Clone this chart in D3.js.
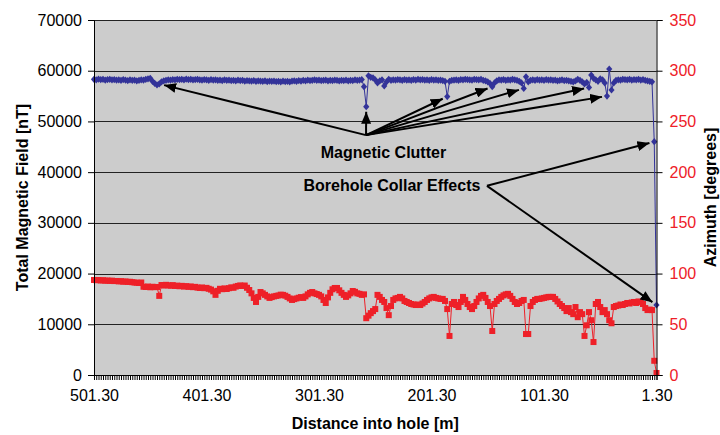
<!DOCTYPE html>
<html>
<head>
<meta charset="utf-8">
<script src="https://cdn.jsdelivr.net/npm/d3@7"></script>
<style>
  body { margin: 0; background: #fff; }
  svg { display: block; font-family: "Liberation Sans", Arial, sans-serif; }
</style>
</head>
<body>
<svg class="chart" width="720" height="435"></svg>
<script>
// depth categories, one reading every 2 m
const depths = d3.range(501.3, 1.2, -2);
const depthLabels = [501.3, 401.3, 301.3, 201.3, 101.3, 1.3];
const fieldTicks = [0, 10000, 20000, 30000, 40000, 50000, 60000, 70000];
const azimuthTicks = [0, 50, 100, 150, 200, 250, 300, 350];

// total magnetic field [nT]
const totalField = [
  58300, 58200, 58350, 58250, 58300, 58150, 58250, 58300, 58200, 58250,
  58150, 58200, 58100, 58250, 58150, 58050, 58200, 58100, 58150, 58000,
  58100, 58200, 58150, 58300, 58400, 58500, 57900, 57500, 57200, 57400,
  57800, 58000, 58100, 58200, 58150, 58250, 58200, 58300, 58250, 58300,
  58200, 58350, 58250, 58300, 58200, 58250, 58300, 58200, 58150, 58250,
  58200, 58100, 58250, 58150, 58200, 58100, 58150, 58050, 58200, 58100,
  58150, 58050, 58100, 58000, 58150, 58050, 58100, 57950, 58050, 58000,
  57950, 58050, 57900, 58000, 57950, 57900, 58000, 57850, 57950, 57900,
  57950, 57850, 57900, 57800, 57950, 57850, 57900, 57800, 57950, 58000,
  57900, 58050, 57950, 58100, 58000, 58150, 58050, 58100, 58200, 58100,
  58150, 58050, 58100, 58150, 58000, 58100, 58050, 58150, 58100, 58000,
  58100, 58050, 58150, 58000, 58100, 58050, 58200, 58100, 58150, 58250,
  56850, 52900, 59000, 58700, 58600, 58200, 57600, 58000, 58200, 57000,
  57800, 58300, 58100, 58200, 58150, 58250, 58200, 58100, 58250, 58150,
  58200, 58100, 58250, 58150, 58300, 58200, 58250, 58150, 58200, 58100,
  58250, 58150, 58200, 58100, 58150, 58050, 57900, 54900, 57900, 58100,
  58150, 58200, 58100, 58250, 58200, 58300, 58250, 58200, 58150, 58300,
  58250, 58200, 58300, 58100, 58000, 57800, 57500, 56850, 57600, 58000,
  58200, 58150, 58250, 58100, 58200, 58150, 58300, 58200, 58100, 57900,
  57600, 56500, 58800, 57800, 58100, 58200, 58100, 58250, 58150, 58200,
  58100, 58250, 58150, 58200, 58100, 58150, 58000, 58100, 58200, 58050,
  58100, 58000, 57900, 57800, 58000, 58300, 58100, 57800, 57400, 57700,
  56700, 59150, 58500, 58200, 57900, 58400, 58200, 57600, 55000, 60340,
  56200, 57600, 58100, 58200, 58150, 58300, 58250, 58200, 58300, 58150,
  58250, 58200, 58300, 58150, 58250, 58100, 58000, 57900, 57800, 46000,
  13800
];

// azimuth [degrees]
const azimuth = [
  93.7, 93.5, 93.6, 93.2, 93.4, 93.0, 93.1, 92.8, 93.0, 92.6,
  92.7, 92.3, 92.5, 92.0, 92.2, 91.8, 91.9, 91.5, 91.2, 91.0,
  90.7, 91.2, 87.0, 86.8, 87.2, 86.5, 87.0, 86.6, 86.8, 78.0,
  88.7, 88.2, 88.9, 88.4, 88.0, 88.6, 87.8, 88.1, 87.5, 87.9,
  87.2, 87.6, 86.9, 87.3, 86.6, 86.9, 86.2, 85.8, 86.3, 85.6,
  85.9, 85.0, 84.2, 82.5, 79.0, 83.0, 85.0, 84.6, 85.4, 84.8,
  85.6, 86.4, 86.0, 87.2, 87.8, 88.3, 87.8, 88.2, 86.0, 83.8,
  80.5, 76.0, 72.0, 77.0, 81.8, 80.5, 79.0, 77.5, 76.0, 76.8,
  77.5, 78.0, 78.4, 79.2, 79.0, 78.2, 77.0, 75.5, 74.0, 74.8,
  75.5, 76.2, 76.8, 76.0, 77.5, 79.5, 81.0, 81.8, 80.5, 79.8,
  79.0, 77.5, 74.0, 71.0, 76.5, 81.0, 84.5, 85.8, 85.8, 83.5,
  81.0, 79.0, 77.0, 78.5, 80.5, 82.8, 82.0, 80.5, 80.0, 79.0,
  79.5, 56.0, 58.5, 61.0, 63.0, 65.0, 79.0, 77.0, 74.0, 72.0,
  66.0, 59.0, 68.0, 74.0, 75.5, 76.0, 77.0, 75.5, 73.0, 72.0,
  71.0, 70.0, 69.5, 69.0, 69.5, 69.0, 70.5, 72.0, 74.0, 75.5,
  76.5, 77.0, 76.0, 75.5, 75.0, 75.0, 73.0, 65.0, 38.5, 70.0,
  72.0, 69.0, 67.0, 72.0, 77.0, 74.0, 70.0, 67.0, 65.0, 68.0,
  72.0, 75.5, 78.0, 79.0, 76.0, 72.0, 68.0, 43.4, 70.0, 73.0,
  75.0, 77.0, 78.5, 79.5, 80.0, 78.0, 75.0, 72.0, 70.0, 71.0,
  73.0, 74.0, 40.4, 40.4, 68.0, 72.0, 74.0, 75.0, 75.0, 75.5,
  76.0, 76.5, 77.0, 77.0, 77.0, 75.0, 72.5, 70.0, 68.0, 66.0,
  63.0, 66.0, 62.0, 60.0, 67.0, 57.0, 62.0, 60.0, 38.5, 49.0,
  62.0, 54.0, 32.5, 70.0, 72.0, 67.0, 62.0, 64.0, 60.0, 54.0,
  51.0, 67.0, 68.0, 68.5, 69.5, 69.0, 70.0, 71.0, 70.5, 71.5,
  72.0, 71.0, 72.5, 72.0, 70.0, 66.0, 64.0, 64.5, 64.0, 14.0,
  2.0
];

// annotations: text anchor in data units, arrow targets as depths on the field series
const clutterLabel = { text: "Magnetic Clutter", depth: 244, value: 42800 };
const clutterFrom = { depth: 259.5, value: 47300 };
const clutterDepths = [443.3, 259.3, 187.3, 147.3, 119.3, 61.3, 45.3];
const collarLabel = { text: "Borehole Collar Effects", depth: 236.5, value: 36300 };
const collarFrom = { depth: 152, value: 37300 };
const collarDepths = [3.3, 1.3];

class MagChart {
    constructor(el){
        this.svg = d3.select(el);
        this.margin = { top: 20, right: 63.5, bottom: 60, left: 94 };
        this.w = 720 - this.margin.left - this.margin.right;
        this.h = 435 - this.margin.top - this.margin.bottom;
        this.g = this.svg.append("g").attr("transform", "translate(" + this.margin.left + "," + this.margin.top + ")");
        this.x = d3.scaleLinear().domain([501.3, 1.3]).range([0, this.w]);
        this.yL = d3.scaleLinear().domain([0, 70000]).range([this.h, 0]);
        this.yR = d3.scaleLinear().domain([0, 350]).range([this.h, 0]);
        this.blue = "#333399";
        this.red = "#ee2028";
        this.drawFrame();
        this.drawSeries();
        this.drawAxes();
        this.drawNotes();
    }

    drawFrame(){
        this.g.append("rect")
            .attr("width", this.w).attr("height", this.h)
            .attr("fill", "#cccccc");
        this.g.append("g").selectAll("line").data(fieldTicks.slice(1)).join("line")
            .attr("x1", 0).attr("x2", this.w)
            .attr("y1", d => Math.round(this.yL(d)) + 0.5)
            .attr("y2", d => Math.round(this.yL(d)) + 0.5)
            .attr("stroke", "#222").attr("stroke-width", 1);
    }

    drawSeries(){
        const field = depths.map((d, i) => [d, totalField[i]]);
        const az = depths.map((d, i) => [d, azimuth[i]]);

        const lineL = d3.line().x(d => this.x(d[0])).y(d => this.yL(d[1]));
        const lineR = d3.line().x(d => this.x(d[0])).y(d => this.yR(d[1]));

        this.g.append("path").datum(field)
            .attr("d", lineL).attr("fill", "none")
            .attr("stroke", this.blue).attr("stroke-width", 1);
        this.g.append("g").selectAll("path").data(field).join("path")
            .attr("transform", d => "translate(" + this.x(d[0]) + "," + this.yL(d[1]) + ")")
            .attr("d", "M0,-3.6L3.1,0L0,3.6L-3.1,0Z")
            .attr("fill", this.blue);

        this.g.append("path").datum(az)
            .attr("d", lineR).attr("fill", "none")
            .attr("stroke", this.red).attr("stroke-width", 1);
        this.g.append("g").selectAll("rect").data(az).join("rect")
            .attr("x", d => this.x(d[0]) - 3)
            .attr("y", d => this.yR(d[1]) - 3)
            .attr("width", 6).attr("height", 6)
            .attr("fill", this.red);
    }

    drawAxes(){
        const font = "16px";
        // dense category ticks along the bottom
        this.g.append("g")
            .attr("transform", "translate(0," + this.h + ")")
            .call(d3.axisBottom(this.x).tickValues(depths).tickSize(5).tickFormat(""))
            .call(g => g.select(".domain").attr("stroke", "#000"));
        this.g.append("g")
            .attr("transform", "translate(0," + this.h + ")")
            .call(d3.axisBottom(this.x).tickValues(depthLabels).tickSize(0).tickPadding(15).tickFormat(d3.format(".2f")))
            .call(g => g.select(".domain").remove())
            .selectAll("text").attr("font-size", font).attr("fill", "#000");

        this.g.append("g")
            .call(d3.axisLeft(this.yL).tickValues(fieldTicks).tickSize(6).tickPadding(6).tickFormat(d3.format("d")))
            .call(g => g.selectAll("line, .domain").attr("stroke", "#000"))
            .selectAll("text").attr("font-size", font).attr("fill", "#000");

        this.g.append("g")
            .attr("transform", "translate(" + this.w + ",0)")
            .call(d3.axisRight(this.yR).tickValues(azimuthTicks).tickSize(6).tickPadding(7))
            .call(g => g.selectAll("line, .domain").attr("stroke", "#000"))
            .selectAll("text").attr("font-size", font).attr("fill", this.red);

        const title = (txt, x, y, rot) => this.svg.append("text")
            .attr("transform", "translate(" + x + "," + y + ")" + (rot ? " rotate(-90)" : ""))
            .attr("text-anchor", "middle")
            .attr("font-size", "16px").attr("font-weight", "bold")
            .text(txt);
        title("Distance into hole [m]", this.margin.left + this.w / 2, 429, false);
        title("Total Magnetic Field [nT]", 28, this.margin.top + this.h / 2, true);
        title("Azimuth [degrees]", 716, this.margin.top + this.h / 2, true);
    }

    drawNotes(){
        const defs = this.svg.append("defs");
        defs.append("marker")
            .attr("id", "head")
            .attr("viewBox", "0 0 12 10")
            .attr("refX", 12).attr("refY", 5)
            .attr("markerWidth", 12).attr("markerHeight", 10)
            .attr("markerUnits", "userSpaceOnUse")
            .attr("orient", "auto")
            .append("path").attr("d", "M0,0L12,5L0,10Z").attr("fill", "#000");

        const iOf = d => depths.findIndex(v => Math.abs(v - d) < 0.01);
        const arrows = [];
        const from1 = [this.x(clutterFrom.depth), this.yL(clutterFrom.value)];
        clutterDepths.forEach(d => arrows.push([from1, [this.x(d), this.yL(totalField[iOf(d)])]]));
        const from2 = [this.x(collarFrom.depth), this.yL(collarFrom.value)];
        collarDepths.forEach(d => arrows.push([from2, [this.x(d), this.yL(totalField[iOf(d)])]]));

        const gap = 5;
        this.g.append("g").selectAll("line").data(arrows).join("line")
            .attr("x1", d => d[0][0]).attr("y1", d => d[0][1])
            .attr("x2", d => {
                const dx = d[1][0] - d[0][0], dy = d[1][1] - d[0][1], len = Math.hypot(dx, dy);
                return d[1][0] - dx / len * gap;
            })
            .attr("y2", d => {
                const dx = d[1][0] - d[0][0], dy = d[1][1] - d[0][1], len = Math.hypot(dx, dy);
                return d[1][1] - dy / len * gap;
            })
            .attr("stroke", "#000").attr("stroke-width", 2)
            .attr("marker-end", "url(#head)");

        [clutterLabel, collarLabel].forEach(n => {
            this.g.append("text")
                .attr("x", this.x(n.depth)).attr("y", this.yL(n.value))
                .attr("text-anchor", "middle")
                .attr("font-size", "16px").attr("font-weight", "bold")
                .text(n.text);
        });
    }
}

new MagChart(".chart");
</script>
</body>
</html>
